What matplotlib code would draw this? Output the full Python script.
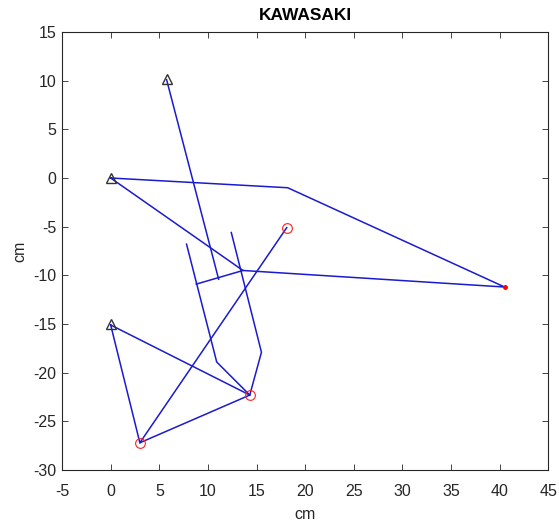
import matplotlib
matplotlib.use("Agg")
from matplotlib import pyplot as plt

plt.rcParams['font.family'] = ['Liberation Sans', 'DejaVu Sans']
plt.rcParams['axes.unicode_minus'] = False

# sensor positions (triangles)
tri_x = [5.75, 0.0, 0.0]
tri_y = [10.15, 0.05, -15.05]

# target positions (red circles)
circ_x = [18.1, 14.3, 3.0]
circ_y = [-5.1, -22.3, -27.2]

# far point (small red dot)
dot_x = [40.5]
dot_y = [-11.2]

# polylines of the track
paths = [
    ([0.0, 18.2, 40.5, 13.6, 0.0], [0.0, -1.0, -11.2, -9.5, 0.0]),
    ([5.75, 11.1], [10.1, -10.4]),
    ([13.6, 8.8], [-9.5, -10.9]),
    ([7.8, 10.9, 14.3], [-6.8, -18.9, -22.3]),
    ([12.4, 15.5, 14.3], [-5.6, -17.9, -22.3]),
    ([18.1, 3.0], [-5.1, -27.2]),
    ([0.0, 3.0, 14.3, 0.0], [-15.1, -27.2, -22.3, -15.1]),
]

fig = plt.figure(figsize=(5.59, 5.29), dpi=100)
ax = fig.add_axes([0.111, 0.1115, 0.870, 0.828])

for px, py in paths:
    ax.plot(px, py, color='#1a1ad0', linewidth=1.1)

ax.plot(tri_x, tri_y, linestyle='none', marker='^', markersize=7,
        markerfacecolor='none', markeredgecolor='#333333', markeredgewidth=1.0)
ax.plot(circ_x, circ_y, linestyle='none', marker='o', markersize=7,
        markerfacecolor='none', markeredgecolor='#ff2020', markeredgewidth=0.8)
ax.plot(dot_x, dot_y, linestyle='none', marker='o', markersize=2.5,
        markerfacecolor='#ff0000', markeredgecolor='#ff0000')

ax.set_xlim(-5, 45)
ax.set_ylim(-30, 15)
ax.set_xticks(range(-5, 46, 5))
ax.set_yticks(range(-30, 16, 5))
ax.tick_params(direction='in', top=True, right=True, length=4, width=0.6,
               labelsize=11.5, labelcolor='#262626', colors='#262626')
ax.tick_params(axis='x', pad=10)
ax.tick_params(axis='y', pad=4)
for s in ax.spines.values():
    s.set_linewidth(0.8)
    s.set_color('#262626')

ax.set_xlabel('cm', fontsize=11.5, color='#262626', labelpad=6)
ax.set_ylabel('cm', fontsize=11.5, color='#262626', labelpad=4)
ax.set_title('KAWASAKI', fontsize=12.5, fontweight='bold', pad=9)

fig.savefig('out.png', dpi=100)
